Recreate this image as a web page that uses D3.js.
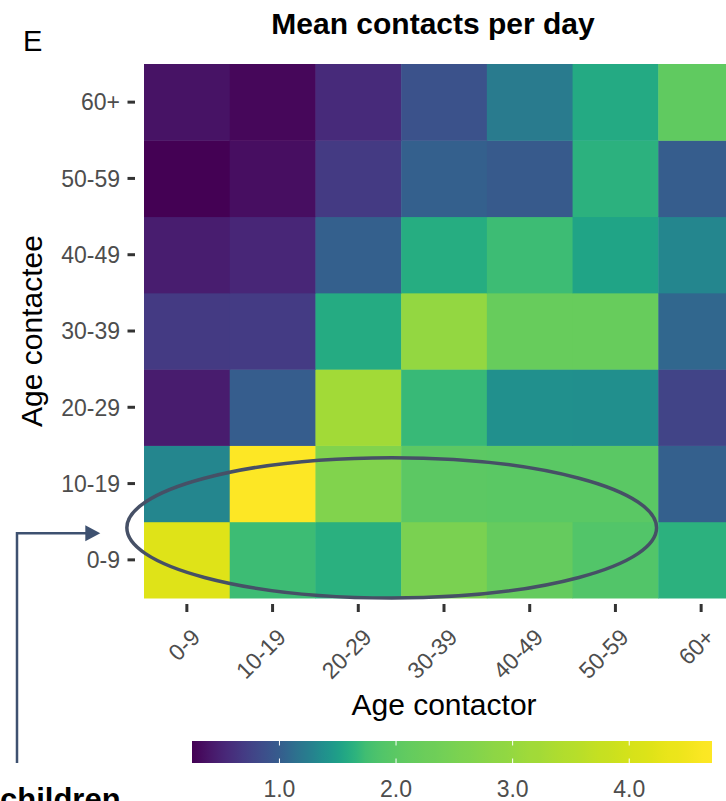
<!DOCTYPE html>
<html>
<head>
<meta charset="utf-8">
<script src="https://cdn.jsdelivr.net/npm/d3@7"></script>
<style>
  body { margin: 0; background: #fff; }
  text { font-family: "Liberation Sans", Arial, sans-serif; }
  .tick-label { fill: #4d4d4d; font-size: 23px; }
  .axis-title { fill: #000; font-size: 30px; }
</style>
</head>
<body>
<div id="chart-area"></div>
<script>
// Age groups (used for both axes).
var ageGroups = ["0-9", "10-19", "20-29", "30-39", "40-49", "50-59", "60+"];

// Mean contacts per day, one row per contactee age group, columns = contactor.
var contactee0to9   = [4.20, 1.72, 1.63, 2.54, 2.15, 1.90, 1.64];
var contactee10to19 = [1.31, 4.71, 2.65, 1.99, 1.98, 1.97, 1.02];
var contactee20to29 = [0.45, 1.00, 3.20, 1.70, 1.38, 1.37, 0.77];
var contactee30to39 = [0.69, 0.70, 1.59, 2.95, 2.18, 2.18, 1.07];
var contactee40to49 = [0.46, 0.53, 1.02, 1.60, 1.72, 1.54, 1.31];
var contactee50to59 = [0.25, 0.35, 0.69, 1.02, 0.97, 1.64, 1.00];
var contactee60plus = [0.38, 0.30, 0.56, 0.90, 1.22, 1.58, 2.05];
var contactRows = [contactee0to9, contactee10to19, contactee20to29, contactee30to39,
                   contactee40to49, contactee50to59, contactee60plus];

// Colour bar
var legendDomain = [0.25, 4.71];
var legendTicks = [1.0, 2.0, 3.0, 4.0];
// colour ramp stops (value -> position along viridis)
var rampValues = [0.25, 1.0, 1.75, 2.0, 4.71];
var rampPositions = [0, 0.29, 0.70, 0.75, 1.0];

// Annotation ellipse around the children rows, in cell units.
var highlight = {cx: 2.89, cy: 0.92, rx: 3.09, ry: 0.92};

var data = [];
contactRows.forEach(function(row, i) {
    row.forEach(function(v, j) {
        data.push({contactee: ageGroups[i], contactor: ageGroups[j], value: v});
    });
});

var W = 726, H = 801;
var panel = {left: 144, top: 64, width: 600, height: 534};

var svg = d3.select("#chart-area")
    .append("svg")
    .attr("width", W)
    .attr("height", H);

var x = d3.scaleBand().domain(ageGroups).range([panel.left, panel.left + panel.width]);
var y = d3.scaleBand().domain(ageGroups).range([panel.top + panel.height, panel.top]);

// cell-unit helpers for annotations
var xu = d3.scaleLinear().domain([0, 7]).range([panel.left, panel.left + panel.width]);
var yu = d3.scaleLinear().domain([0, 7]).range([panel.top + panel.height, panel.top]);

var ramp = d3.scaleLinear().domain(rampValues).range(rampPositions).clamp(true);
var color = function(v) { return d3.interpolateViridis(ramp(v)); };

// Tiles
svg.append("g")
    .selectAll("rect")
    .data(data)
    .enter()
    .append("rect")
    .attr("x", d => x(d.contactor))
    .attr("y", d => y(d.contactee))
    .attr("width", x.bandwidth() + 0.5)
    .attr("height", y.bandwidth() + 0.5)
    .attr("fill", d => color(d.value));

// Y axis ticks + labels
var yAxis = svg.append("g");
ageGroups.forEach(function(g) {
    var cy = y(g) + y.bandwidth() / 2;
    yAxis.append("line")
        .attr("x1", 127.5).attr("x2", 135)
        .attr("y1", cy).attr("y2", cy)
        .attr("stroke", "#333").attr("stroke-width", 3);
    yAxis.append("text")
        .attr("class", "tick-label")
        .attr("x", 120)
        .attr("y", cy)
        .attr("dy", "0.36em")
        .attr("text-anchor", "end")
        .text(g);
});

// X axis ticks + rotated labels
var xAxis = svg.append("g");
ageGroups.forEach(function(g) {
    var cx = x(g) + x.bandwidth() / 2;
    xAxis.append("line")
        .attr("x1", cx).attr("x2", cx)
        .attr("y1", 604).attr("y2", 612)
        .attr("stroke", "#333").attr("stroke-width", 3);
    xAxis.append("text")
        .attr("class", "tick-label")
        .attr("transform", "translate(" + (cx + 3) + ",627) rotate(-45)")
        .attr("dy", "0.72em")
        .attr("text-anchor", "end")
        .text(g);
});

// Axis titles
svg.append("text")
    .attr("class", "axis-title")
    .attr("x", panel.left + panel.width / 2)
    .attr("y", 715)
    .attr("text-anchor", "middle")
    .text("Age contactor");

svg.append("text")
    .attr("class", "axis-title")
    .attr("transform", "rotate(-90)")
    .attr("x", -(panel.top + panel.height / 2))
    .attr("y", 42)
    .attr("text-anchor", "middle")
    .text("Age contactee");

// Title and panel letter
svg.append("text")
    .attr("x", 433)
    .attr("y", 34)
    .attr("text-anchor", "middle")
    .style("font-size", "30px")
    .style("font-weight", "bold")
    .text("Mean contacts per day");

svg.append("text")
    .attr("x", 23)
    .attr("y", 51)
    .style("font-size", "29px")
    .text("E");

// Highlight ellipse
svg.append("ellipse")
    .attr("cx", xu(highlight.cx))
    .attr("cy", yu(highlight.cy))
    .attr("rx", xu(highlight.rx) - xu(0))
    .attr("ry", yu(0) - yu(highlight.ry))
    .attr("fill", "none")
    .attr("stroke", "#465066")
    .attr("stroke-width", 3.5);

// Colour bar legend
var legendX = d3.scaleLinear().domain(legendDomain).range([192, 712]);
var barTop = 741, barH = 22;

var defs = svg.append("defs");
var grad = defs.append("linearGradient")
    .attr("id", "legend-gradient")
    .attr("x1", "0%").attr("x2", "100%")
    .attr("y1", "0%").attr("y2", "0%");
var nStops = 60;
for (var i = 0; i <= nStops; i++) {
    var t = i / nStops;
    var v = legendDomain[0] + t * (legendDomain[1] - legendDomain[0]);
    grad.append("stop")
        .attr("offset", (t * 100) + "%")
        .attr("stop-color", color(v));
}

svg.append("rect")
    .attr("x", legendX(legendDomain[0]))
    .attr("y", barTop)
    .attr("width", legendX(legendDomain[1]) - legendX(legendDomain[0]))
    .attr("height", barH)
    .style("fill", "url(#legend-gradient)");

var lt = svg.append("g");
legendTicks.forEach(function(v) {
    var lx = legendX(v);
    lt.append("line")
        .attr("x1", lx).attr("x2", lx)
        .attr("y1", barTop).attr("y2", barTop + 4.5)
        .attr("stroke", "#fff").attr("stroke-width", 1);
    lt.append("line")
        .attr("x1", lx).attr("x2", lx)
        .attr("y1", barTop + barH - 4.5).attr("y2", barTop + barH)
        .attr("stroke", "#fff").attr("stroke-width", 1);
    lt.append("text")
        .attr("class", "tick-label")
        .attr("x", lx)
        .attr("y", 797)
        .attr("text-anchor", "middle")
        .text(d3.format(".1f")(v));
});

// Arrow pointing at the 0-9 row, from the "children" note
var arrowY = yu(0.85);
var arrowTip = xu(-0.51);
var arrowX = 17;
svg.append("path")
    .attr("d", "M" + arrowX + "," + (barTop + barH) + "V" + arrowY + "H" + (arrowTip - 14))
    .attr("fill", "none")
    .attr("stroke", "#3e5170")
    .attr("stroke-width", 2.5);
svg.append("path")
    .attr("d", "M" + (arrowTip - 15) + "," + (arrowY - 8) + "L" + arrowTip + "," + arrowY +
               "L" + (arrowTip - 15) + "," + (arrowY + 8) + "Z")
    .attr("fill", "#3e5170");

svg.append("text")
    .attr("x", 0)
    .attr("y", 810)
    .style("font-size", "31px")
    .style("font-weight", "bold")
    .text("children");
</script>
</body>
</html>
